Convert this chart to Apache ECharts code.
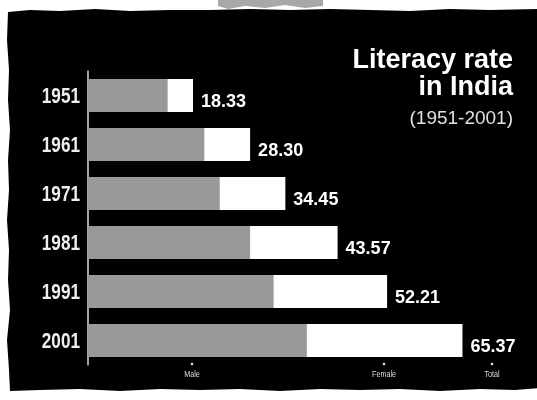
<!DOCTYPE html>
<html>
<head>
<meta charset="utf-8">
<script src="https://cdn.jsdelivr.net/npm/echarts@6/dist/echarts.min.js"></script>
<style>
html,body{margin:0;padding:0;background:#fff;}
#chart{width:537px;height:400px;}
</style>
</head>
<body>
<div id="chart"></div>
<script>
var categories = ['1951', '1961', '1971', '1981', '1991', '2001'];
var totalValues = [18.33, 28.30, 34.45, 43.57, 52.21, 65.37];
var maleValues = [13.9, 20.3, 23.0, 28.3, 32.4, 38.2];
var legendLabels = ['Male', 'Female', 'Total'];
var titleLines = ['Literacy rate', 'in India'];
var subtitle = '(1951-2001)';

var sans = '"Liberation Sans", Arial, Helvetica, sans-serif';

var chart = echarts.init(document.getElementById('chart'), null, {renderer: 'canvas'});

var bgPoly = [
  [8,12],[30,10],[60,11],[95,9],[130,11],[170,10],[210,10],[250,9],[290,10],[330,9],[370,10],[410,11],[450,9],[490,10],[540,9],
  [540,388],[515,390],[480,389],[440,391],[400,389],[360,390],[320,389],[280,391],[240,389],[200,390],[160,389],[120,391],[80,389],[40,390],[10,391],
  [9,370],[7,340],[10,310],[8,280],[9,250],[7,220],[9,190],[8,160],[10,130],[8,100],[9,70],[7,40]
];
var blob = [[218,0],[323,0],[323,6],[305,8],[285,5],[265,8],[245,6],[228,9],[218,6]];

var legendX = [192, 384, 492];
var legendGraphics = [];
legendLabels.forEach(function (t, i) {
  legendGraphics.push({type: 'circle', shape: {cx: legendX[i], cy: 364, r: 1.3}, style: {fill: '#ddd'}, silent: true, z: 10});
  legendGraphics.push({type: 'text', x: legendX[i], y: 375, scaleX: 0.8, style: {text: t, fill: '#ddd', font: '9px ' + sans, align: 'center', verticalAlign: 'middle'}, silent: true, z: 10});
});

chart.setOption({
  backgroundColor: '#fff',
  animation: false,
  title: {
    text: titleLines.join('\n'),
    subtext: subtitle,
    left: 508,
    top: 42,
    itemGap: 8,
    textAlign: 'right',
    textStyle: {color: '#fff', fontSize: 27, fontWeight: 'bold', fontFamily: sans, lineHeight: 27},
    subtextStyle: {color: '#e0e0e0', fontSize: 19, fontFamily: sans, lineHeight: 19}
  },
  graphic: [
    {type: 'polygon', shape: {points: bgPoly}, style: {fill: '#000'}, silent: true, z: -10},
    {type: 'polygon', shape: {points: blob}, style: {fill: '#a8a8a8'}, silent: true, z: -10}
  ].concat(legendGraphics),
  grid: {left: 88, top: 71, width: 401, height: 294, containLabel: false},
  xAxis: {type: 'value', min: 0, max: 70, show: false},
  yAxis: {
    type: 'category',
    data: categories,
    inverse: true,
    axisLine: {show: true, lineStyle: {color: '#d8d8d8', width: 1.5}},
    axisTick: {show: false},
    splitLine: {show: false},
    axisLabel: {show: false}
  },
  series: [
    {
      type: 'bar',
      name: 'Total',
      data: totalValues,
      barWidth: 33,
      itemStyle: {color: '#fff'},
      label: {
        show: true, position: 'right', distance: 8, offset: [0, 7],
        color: '#fff', fontSize: 18, fontWeight: 'bold', fontFamily: sans,
        formatter: function (p) { return p.value.toFixed(2); }
      },
      silent: true
    },
    {
      type: 'bar',
      name: 'Male',
      data: maleValues,
      barWidth: 33,
      barGap: '-100%',
      itemStyle: {color: '#999'},
      silent: true
    },
    {
      type: 'custom',
      name: 'years',
      data: categories.map(function (c, i) { return [0, i]; }),
      encode: {x: 0, y: 1},
      silent: true,
      renderItem: function (params, api) {
        var pt = api.coord([0, api.value(1)]);
        return {
          type: 'text',
          x: pt[0] - 8,
          y: pt[1] + 1,
          scaleX: 0.78,
          style: {
            text: categories[api.value(1)],
            fill: '#eee',
            font: 'bold 22px ' + sans,
            align: 'right',
            verticalAlign: 'middle'
          }
        };
      }
    }
  ]
});
</script>
</body>
</html>
